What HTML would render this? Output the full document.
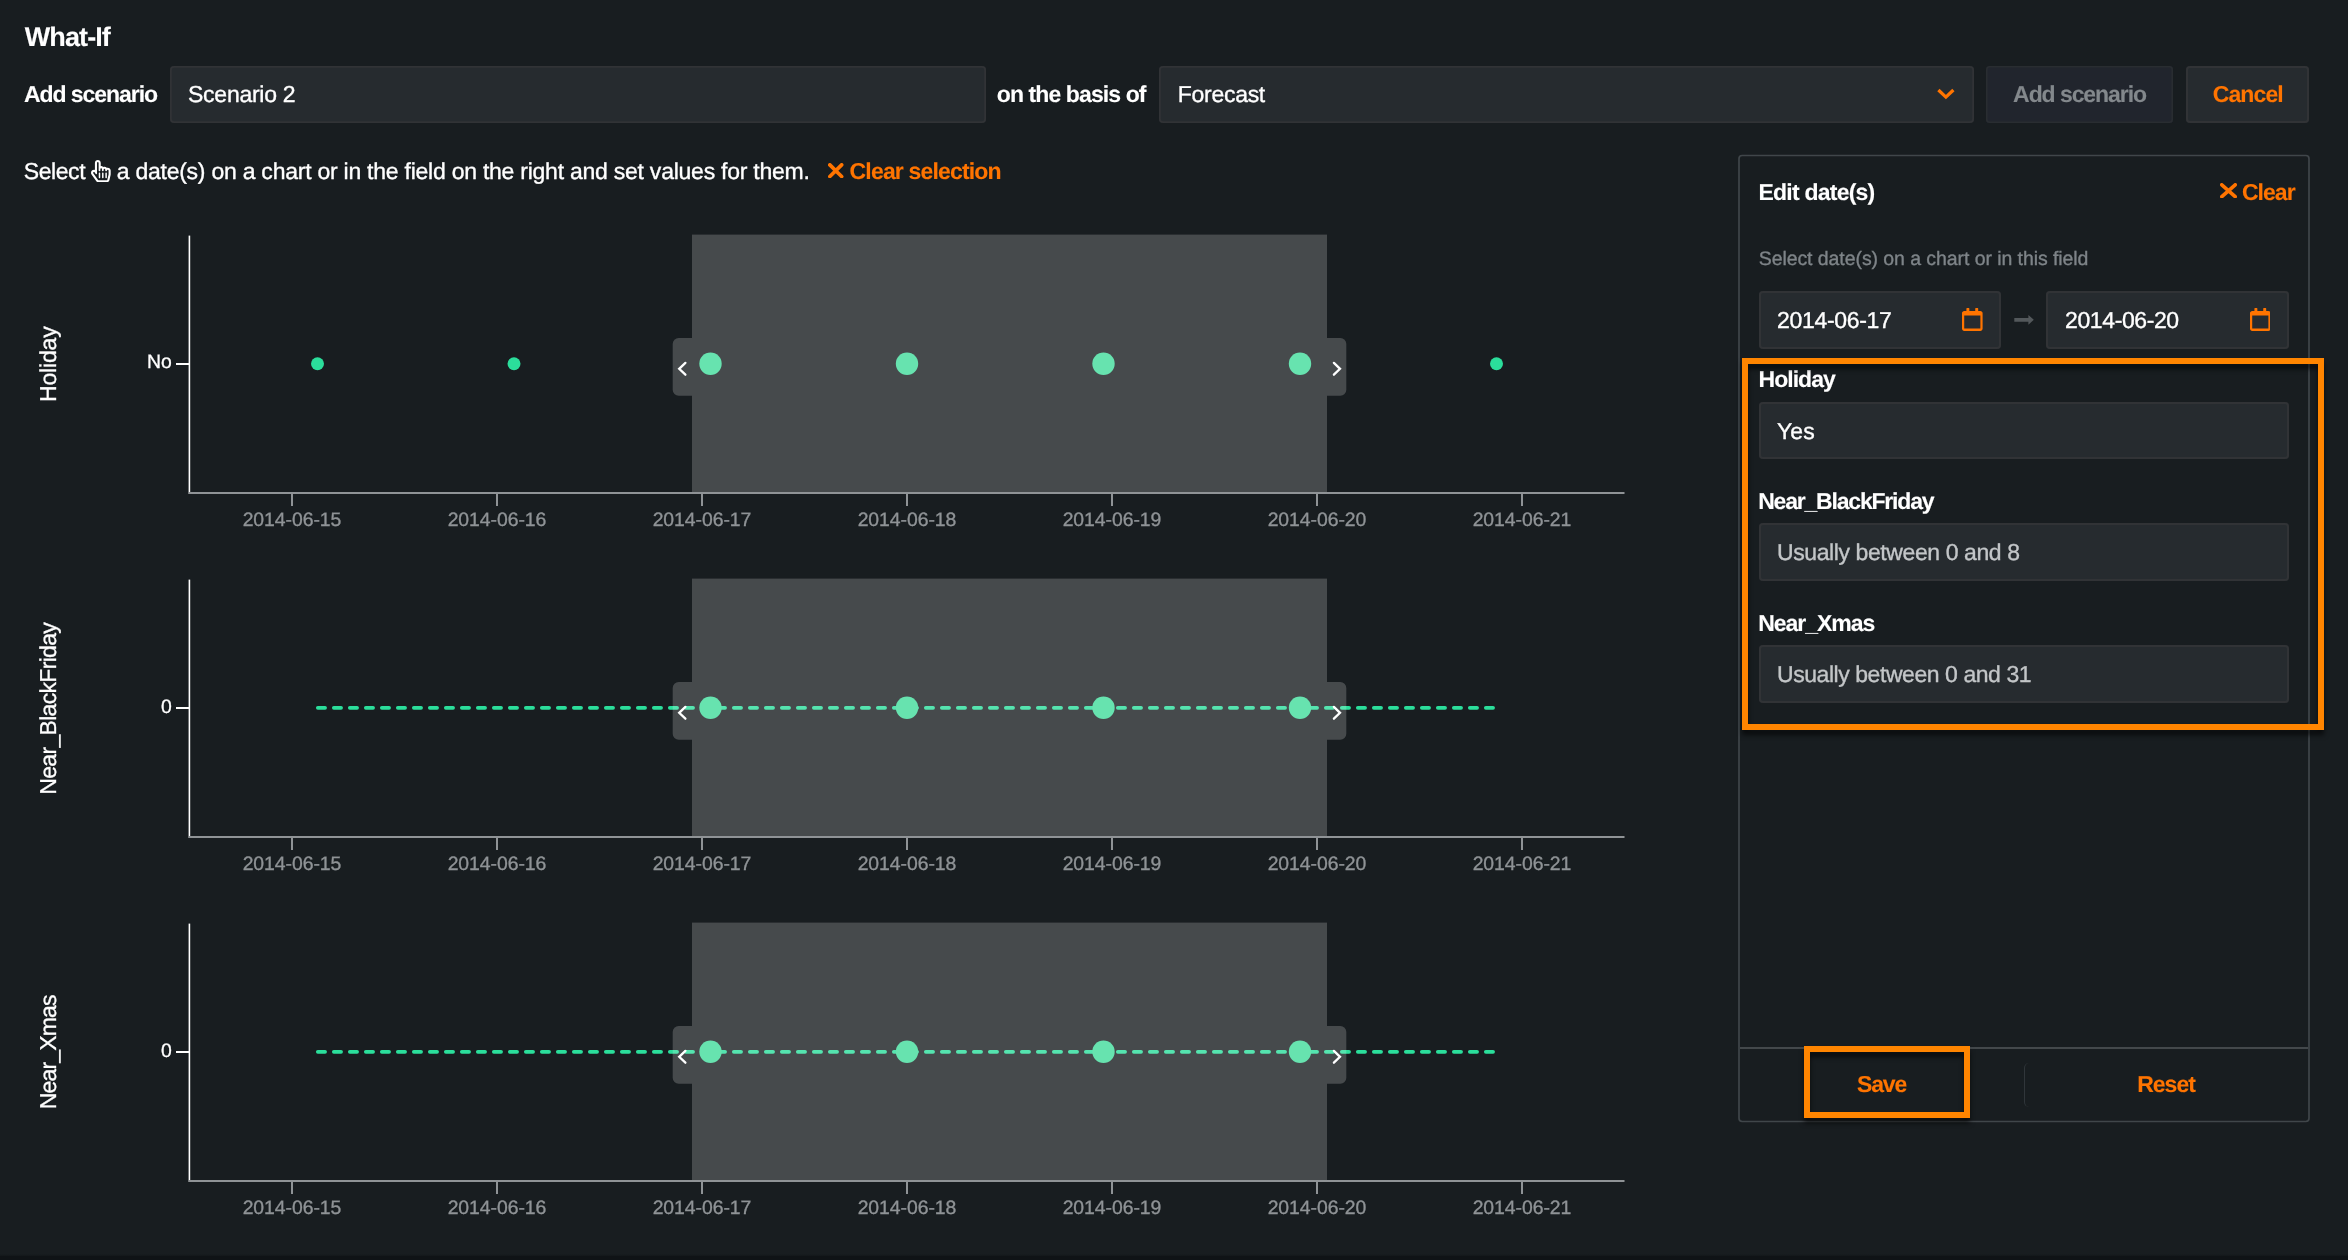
<!DOCTYPE html>
<html lang="en"><head><meta charset="utf-8"><title>What-If</title>
<style>
html,body{margin:0;padding:0;background:#181d20;}
body{width:2348px;height:1260px;position:relative;overflow:hidden;font-family:"Liberation Sans",sans-serif;}
.t{position:absolute;display:block;white-space:nowrap;line-height:1;font-family:"Liberation Sans",sans-serif;text-rendering:geometricPrecision;margin:0;padding:0;border:0;background:none;-webkit-appearance:none;appearance:none;text-align:left;}
.b{position:absolute;display:block;}
svg text{font-family:"Liberation Sans",sans-serif;text-rendering:geometricPrecision;}
#root{position:absolute;left:0;top:0;width:2348px;height:1260px;will-change:transform;}
</style></head><body><div id="root">

<div class="b" style="left:0;top:1256px;width:2348px;height:4px;background:#0f1316"></div>
<div class="b" style="left:0;top:1254px;width:2348px;height:2px;background:linear-gradient(#181d20,#13171a)"></div>
<div class="b" style="left:170.1px;top:66px;width:815.5px;height:57px;background:#262b2f;border-radius:4px;box-shadow:inset 0 0 0 1.8px #313336;"></div>
<div class="b" style="left:1159.3px;top:66px;width:814.7px;height:57px;background:#262b2f;border-radius:4px;box-shadow:inset 0 0 0 1.8px #313336;"></div>
<div class="b" style="left:1986.1px;top:66px;width:187.3px;height:57px;background:#21252d;border-radius:3.5px;box-shadow:inset 0 0 0 1.6px #292d31;"></div>
<div class="b" style="left:2186.2px;top:66px;width:123.3px;height:57px;background:#262b2f;border-radius:4px;box-shadow:inset 0 0 0 2px #313336;"></div>
<svg class="b" style="left:1935px;top:86px" width="22" height="16" viewBox="0 0 22 16"><path d="M3.4 4 L10.9 11.1 L18.4 4" stroke="#ff7400" stroke-width="3.3" fill="none" stroke-linecap="butt" stroke-linejoin="miter"/></svg>
<svg class="b" style="left:91.4px;top:159.8px" width="19.7" height="22.4" viewBox="0 0 448 512" preserveAspectRatio="none"><path fill="#fff" fill-rule="evenodd" d="M358.182 179.361c-19.493-24.768-52.679-31.945-79.872-19.098-15.127-15.687-36.182-22.487-56.595-19.629V67c0-36.944-29.736-67-66.286-67S89.143 30.056 89.143 67v161.129c-19.909-7.41-43.272-5.094-62.083 8.872-29.355 21.795-35.793 63.333-14.55 93.152l109.699 154.001C134.632 501.59 154.741 512 176 512h178.286c30.802 0 57.574-21.5 64.557-51.797l27.429-118.999A67.873 67.873 0 0 0 448 326v-84c0-46.844-46.625-79.273-89.818-62.639zM80.985 279.697l27.126 38.079c8.995 12.626 29.031 6.287 29.031-9.283V67c0-25.12 36.571-25.16 36.571 0v175c0 8.836 7.163 16 16 16h6.857c8.837 0 16-7.164 16-16v-35c0-25.12 36.571-25.16 36.571 0v35c0 8.836 7.163 16 16 16H272c8.837 0 16-7.164 16-16v-21c0-25.12 36.571-25.16 36.571 0v21c0 8.836 7.163 16 16 16h6.857c8.837 0 16-7.164 16-16 0-25.121 36.571-25.16 36.571 0v84c0 1.488-.169 2.977-.502 4.423l-27.43 119.001c-1.978 8.582-9.29 14.576-17.782 14.576H176c-5.769 0-11.263-2.878-14.697-7.697l-109.712-154c-14.406-20.223 14.994-42.818 29.394-22.606zM176.143 400v-96c0-8.837 6.268-16 14-16h6c7.732 0 14 7.163 14 16v96c0 8.837-6.268 16-14 16h-6c-7.732 0-14-7.163-14-16zm75.428 0v-96c0-8.837 6.268-16 14-16h6c7.732 0 14 7.163 14 16v96c0 8.837-6.268 16-14 16h-6c-7.732 0-14-7.163-14-16zM327 400v-96c0-8.837 6.268-16 14-16h6c7.732 0 14 7.163 14 16v96c0 8.837-6.268 16-14 16h-6c-7.732 0-14-7.163-14-16z"/></svg>
<svg class="b" style="left:828.3px;top:163.1px" width="15.5" height="15.3" viewBox="0 0 15.5 15.3"><path d="M1.85 1.85 L13.65 13.45 M13.65 1.85 L1.85 13.45" stroke="#ff7400" stroke-width="3.7" stroke-linecap="round" fill="none"/></svg>
<svg class="b" style="left:0;top:0" width="1700" height="1256" viewBox="0 0 1700 1256">
<circle cx="317.5" cy="363.75" r="6.5" fill="#2bde9b"/>
<circle cx="514" cy="363.75" r="6.5" fill="#2bde9b"/>
<circle cx="1496.5" cy="363.75" r="6.5" fill="#2bde9b"/>
<circle cx="710.5" cy="363.75" r="11.2" fill="#42dc9c"/>
<circle cx="907" cy="363.75" r="11.2" fill="#42dc9c"/>
<circle cx="1103.5" cy="363.75" r="11.2" fill="#42dc9c"/>
<circle cx="1300" cy="363.75" r="11.2" fill="#42dc9c"/>
<rect x="692" y="234.6" width="635" height="257.4" fill="#fff" fill-opacity="0.2"/>
<path d="M692 338 H678.7 a6 6 0 0 0 -6 6 V389.7 a6 6 0 0 0 6 6 H692 Z" fill="#fff" fill-opacity="0.2"/>
<path d="M1327 338 H1340.3 a6 6 0 0 1 6 6 V389.7 a6 6 0 0 1 -6 6 H1327 Z" fill="#fff" fill-opacity="0.2"/>
<path d="M685.4 362.9 L679.2 368.8 L685.4 374.7" stroke="#fff" stroke-width="2.3" fill="none" stroke-linecap="round" stroke-linejoin="miter"/>
<path d="M1333.9 362.9 L1340 368.8 L1333.9 374.7" stroke="#fff" stroke-width="2.3" fill="none" stroke-linecap="round" stroke-linejoin="miter"/>
<rect x="188.6" y="235.6" width="1.6" height="258.4" fill="#fff"/>
<rect x="189" y="492" width="1435.5" height="2" fill="#8f9396"/>
<rect x="176" y="363" width="13" height="2" fill="#fff"/>
<rect x="291" y="493" width="2" height="13" fill="#8f9396"/>
<text x="292" y="526.3" text-anchor="middle" font-size="19.4" fill="#8f9396" stroke="#8f9396" stroke-width=".35" letter-spacing="-0.05">2014-06-15</text>
<rect x="496" y="493" width="2" height="13" fill="#8f9396"/>
<text x="497" y="526.3" text-anchor="middle" font-size="19.4" fill="#8f9396" stroke="#8f9396" stroke-width=".35" letter-spacing="-0.05">2014-06-16</text>
<rect x="701" y="493" width="2" height="13" fill="#8f9396"/>
<text x="702" y="526.3" text-anchor="middle" font-size="19.4" fill="#8f9396" stroke="#8f9396" stroke-width=".35" letter-spacing="-0.05">2014-06-17</text>
<rect x="906" y="493" width="2" height="13" fill="#8f9396"/>
<text x="907" y="526.3" text-anchor="middle" font-size="19.4" fill="#8f9396" stroke="#8f9396" stroke-width=".35" letter-spacing="-0.05">2014-06-18</text>
<rect x="1111" y="493" width="2" height="13" fill="#8f9396"/>
<text x="1112" y="526.3" text-anchor="middle" font-size="19.4" fill="#8f9396" stroke="#8f9396" stroke-width=".35" letter-spacing="-0.05">2014-06-19</text>
<rect x="1316" y="493" width="2" height="13" fill="#8f9396"/>
<text x="1317" y="526.3" text-anchor="middle" font-size="19.4" fill="#8f9396" stroke="#8f9396" stroke-width=".35" letter-spacing="-0.05">2014-06-20</text>
<rect x="1521" y="493" width="2" height="13" fill="#8f9396"/>
<text x="1522" y="526.3" text-anchor="middle" font-size="19.4" fill="#8f9396" stroke="#8f9396" stroke-width=".35" letter-spacing="-0.05">2014-06-21</text>
<text x="171.9" y="368.4" text-anchor="end" font-size="19.4" fill="#fff" stroke="#fff" stroke-width=".3">No</text>
<text transform="translate(56.2 364.2) rotate(-90)" text-anchor="middle" font-size="23" fill="#fff" stroke="#fff" stroke-width=".3" letter-spacing="-0.18">Holiday</text>
<path d="M317.8 707.85 H1494" stroke="#2bde9b" stroke-width="3.7" stroke-linecap="round" stroke-dasharray="7.3 8.7" fill="none"/>
<circle cx="710.5" cy="707.75" r="11.2" fill="#42dc9c"/>
<circle cx="907" cy="707.75" r="11.2" fill="#42dc9c"/>
<circle cx="1103.5" cy="707.75" r="11.2" fill="#42dc9c"/>
<circle cx="1300" cy="707.75" r="11.2" fill="#42dc9c"/>
<rect x="692" y="578.6" width="635" height="257.4" fill="#fff" fill-opacity="0.2"/>
<path d="M692 682 H678.7 a6 6 0 0 0 -6 6 V733.7 a6 6 0 0 0 6 6 H692 Z" fill="#fff" fill-opacity="0.2"/>
<path d="M1327 682 H1340.3 a6 6 0 0 1 6 6 V733.7 a6 6 0 0 1 -6 6 H1327 Z" fill="#fff" fill-opacity="0.2"/>
<path d="M685.4 706.9 L679.2 712.8 L685.4 718.7" stroke="#fff" stroke-width="2.3" fill="none" stroke-linecap="round" stroke-linejoin="miter"/>
<path d="M1333.9 706.9 L1340 712.8 L1333.9 718.7" stroke="#fff" stroke-width="2.3" fill="none" stroke-linecap="round" stroke-linejoin="miter"/>
<rect x="188.6" y="579.6" width="1.6" height="258.4" fill="#fff"/>
<rect x="189" y="836" width="1435.5" height="2" fill="#8f9396"/>
<rect x="176" y="707" width="13" height="2" fill="#fff"/>
<rect x="291" y="837" width="2" height="13" fill="#8f9396"/>
<text x="292" y="870.3" text-anchor="middle" font-size="19.4" fill="#8f9396" stroke="#8f9396" stroke-width=".35" letter-spacing="-0.05">2014-06-15</text>
<rect x="496" y="837" width="2" height="13" fill="#8f9396"/>
<text x="497" y="870.3" text-anchor="middle" font-size="19.4" fill="#8f9396" stroke="#8f9396" stroke-width=".35" letter-spacing="-0.05">2014-06-16</text>
<rect x="701" y="837" width="2" height="13" fill="#8f9396"/>
<text x="702" y="870.3" text-anchor="middle" font-size="19.4" fill="#8f9396" stroke="#8f9396" stroke-width=".35" letter-spacing="-0.05">2014-06-17</text>
<rect x="906" y="837" width="2" height="13" fill="#8f9396"/>
<text x="907" y="870.3" text-anchor="middle" font-size="19.4" fill="#8f9396" stroke="#8f9396" stroke-width=".35" letter-spacing="-0.05">2014-06-18</text>
<rect x="1111" y="837" width="2" height="13" fill="#8f9396"/>
<text x="1112" y="870.3" text-anchor="middle" font-size="19.4" fill="#8f9396" stroke="#8f9396" stroke-width=".35" letter-spacing="-0.05">2014-06-19</text>
<rect x="1316" y="837" width="2" height="13" fill="#8f9396"/>
<text x="1317" y="870.3" text-anchor="middle" font-size="19.4" fill="#8f9396" stroke="#8f9396" stroke-width=".35" letter-spacing="-0.05">2014-06-20</text>
<rect x="1521" y="837" width="2" height="13" fill="#8f9396"/>
<text x="1522" y="870.3" text-anchor="middle" font-size="19.4" fill="#8f9396" stroke="#8f9396" stroke-width=".35" letter-spacing="-0.05">2014-06-21</text>
<text x="171.9" y="712.9" text-anchor="end" font-size="19.4" fill="#fff" stroke="#fff" stroke-width=".3">0</text>
<text transform="translate(56.2 708.8) rotate(-90)" text-anchor="middle" font-size="23" fill="#fff" stroke="#fff" stroke-width=".3" letter-spacing="-0.68">Near_BlackFriday</text>
<path d="M317.8 1051.85 H1494" stroke="#2bde9b" stroke-width="3.7" stroke-linecap="round" stroke-dasharray="7.3 8.7" fill="none"/>
<circle cx="710.5" cy="1051.75" r="11.2" fill="#42dc9c"/>
<circle cx="907" cy="1051.75" r="11.2" fill="#42dc9c"/>
<circle cx="1103.5" cy="1051.75" r="11.2" fill="#42dc9c"/>
<circle cx="1300" cy="1051.75" r="11.2" fill="#42dc9c"/>
<rect x="692" y="922.6" width="635" height="257.4" fill="#fff" fill-opacity="0.2"/>
<path d="M692 1026 H678.7 a6 6 0 0 0 -6 6 V1077.7 a6 6 0 0 0 6 6 H692 Z" fill="#fff" fill-opacity="0.2"/>
<path d="M1327 1026 H1340.3 a6 6 0 0 1 6 6 V1077.7 a6 6 0 0 1 -6 6 H1327 Z" fill="#fff" fill-opacity="0.2"/>
<path d="M685.4 1050.9 L679.2 1056.8 L685.4 1062.7" stroke="#fff" stroke-width="2.3" fill="none" stroke-linecap="round" stroke-linejoin="miter"/>
<path d="M1333.9 1050.9 L1340 1056.8 L1333.9 1062.7" stroke="#fff" stroke-width="2.3" fill="none" stroke-linecap="round" stroke-linejoin="miter"/>
<rect x="188.6" y="923.6" width="1.6" height="258.4" fill="#fff"/>
<rect x="189" y="1180" width="1435.5" height="2" fill="#8f9396"/>
<rect x="176" y="1051" width="13" height="2" fill="#fff"/>
<rect x="291" y="1181" width="2" height="13" fill="#8f9396"/>
<text x="292" y="1214.3" text-anchor="middle" font-size="19.4" fill="#8f9396" stroke="#8f9396" stroke-width=".35" letter-spacing="-0.05">2014-06-15</text>
<rect x="496" y="1181" width="2" height="13" fill="#8f9396"/>
<text x="497" y="1214.3" text-anchor="middle" font-size="19.4" fill="#8f9396" stroke="#8f9396" stroke-width=".35" letter-spacing="-0.05">2014-06-16</text>
<rect x="701" y="1181" width="2" height="13" fill="#8f9396"/>
<text x="702" y="1214.3" text-anchor="middle" font-size="19.4" fill="#8f9396" stroke="#8f9396" stroke-width=".35" letter-spacing="-0.05">2014-06-17</text>
<rect x="906" y="1181" width="2" height="13" fill="#8f9396"/>
<text x="907" y="1214.3" text-anchor="middle" font-size="19.4" fill="#8f9396" stroke="#8f9396" stroke-width=".35" letter-spacing="-0.05">2014-06-18</text>
<rect x="1111" y="1181" width="2" height="13" fill="#8f9396"/>
<text x="1112" y="1214.3" text-anchor="middle" font-size="19.4" fill="#8f9396" stroke="#8f9396" stroke-width=".35" letter-spacing="-0.05">2014-06-19</text>
<rect x="1316" y="1181" width="2" height="13" fill="#8f9396"/>
<text x="1317" y="1214.3" text-anchor="middle" font-size="19.4" fill="#8f9396" stroke="#8f9396" stroke-width=".35" letter-spacing="-0.05">2014-06-20</text>
<rect x="1521" y="1181" width="2" height="13" fill="#8f9396"/>
<text x="1522" y="1214.3" text-anchor="middle" font-size="19.4" fill="#8f9396" stroke="#8f9396" stroke-width=".35" letter-spacing="-0.05">2014-06-21</text>
<text x="171.9" y="1056.9" text-anchor="end" font-size="19.4" fill="#fff" stroke="#fff" stroke-width=".3">0</text>
<text transform="translate(56.2 1052.3) rotate(-90)" text-anchor="middle" font-size="23" fill="#fff" stroke="#fff" stroke-width=".3" letter-spacing="-0.86">Near_Xmas</text>
</svg>
<svg class="b" style="left:1730px;top:150px" width="590" height="980" viewBox="1730 150 590 980"><rect x="1739" y="155.5" width="570" height="966" rx="3.2" fill="none" stroke="#40464a" stroke-width="1.7"/></svg>
<div class="b" style="left:1740px;top:1047.3px;width:568px;height:1.8px;background:#43484b"></div>
<svg class="b" style="left:2220px;top:182.9px" width="17" height="15.5" viewBox="0 0 17 15.5"><path d="M1.8 1.8 L15.2 13.7 M15.2 1.8 L1.8 13.7" stroke="#ff7400" stroke-width="3.6" stroke-linecap="round" fill="none"/></svg>
<div class="b" style="left:1759px;top:291px;width:242.3px;height:57.6px;background:#262b2f;border-radius:4px;box-shadow:inset 0 0 0 2px #313336;"></div>
<div class="b" style="left:2046px;top:291px;width:242.7px;height:57.6px;background:#262b2f;border-radius:4px;box-shadow:inset 0 0 0 2px #313336;"></div>
<svg class="b" style="left:1962.3px;top:308px" width="20.6" height="23" viewBox="0 0 448 512" preserveAspectRatio="none"><path fill="#ff7400" fill-rule="evenodd" d="M400 64h-48V12c0-6.6-5.4-12-12-12h-40c-6.6 0-12 5.4-12 12v52H160V12c0-6.6-5.4-12-12-12h-40c-6.6 0-12 5.400-12 12v52H48C21.5 64 0 85.5 0 112v352c0 26.5 21.5 48 48 48h352c26.5 0 48-21.5 48-48V112c0-26.5-21.5-48-48-48zM394 456H54c-3.3 0-6-2.7-6-6V168h352v282c0 3.3-2.7 6-6 6z"/></svg>
<svg class="b" style="left:2249.9px;top:308px" width="20.6" height="23" viewBox="0 0 448 512" preserveAspectRatio="none"><path fill="#ff7400" fill-rule="evenodd" d="M400 64h-48V12c0-6.6-5.4-12-12-12h-40c-6.6 0-12 5.4-12 12v52H160V12c0-6.6-5.4-12-12-12h-40c-6.6 0-12 5.400-12 12v52H48C21.5 64 0 85.5 0 112v352c0 26.5 21.5 48 48 48h352c26.5 0 48-21.5 48-48V112c0-26.5-21.5-48-48-48zM394 456H54c-3.3 0-6-2.7-6-6V168h352v282c0 3.3-2.7 6-6 6z"/></svg>
<svg class="b" style="left:2010px;top:310px" width="30" height="20" viewBox="2010 310 30 20"><path d="M2014.3 318 H2028.4 V315 L2033.8 319.85 L2028.4 324.7 V321.7 H2014.3 Z" fill="#53585b"/></svg>
<div class="b" style="left:1759px;top:402px;width:529.7px;height:57px;background:#262b2f;border-radius:4px;box-shadow:inset 0 0 0 2px #313336;"></div>
<div class="b" style="left:1759px;top:523.2px;width:529.7px;height:57.5px;background:#262b2f;border-radius:4px;box-shadow:inset 0 0 0 2px #313336;"></div>
<div class="b" style="left:1759px;top:645px;width:529.7px;height:58px;background:#262b2f;border-radius:4px;box-shadow:inset 0 0 0 2px #313336;"></div>
<div class="b" style="left:2024.4px;top:1062.6px;width:10px;height:44px;border-left:1.6px solid #30363a;border-radius:5px 0 0 5px;box-sizing:border-box"></div>
<h1 class="t" id="title" style="left:24.78px;top:24.24px;font-size:27px;font-weight:700;color:#fff;letter-spacing:-0.897px;-webkit-text-stroke:.12px #fff;">What-If</h1>
<label class="t" id="addsc" style="left:23.91px;top:82.53px;font-size:23px;font-weight:700;color:#fff;letter-spacing:-1.047px;-webkit-text-stroke:.12px #fff;">Add scenario</label>
<span class="t" id="scen2" style="left:188.05px;top:82.53px;font-size:23px;font-weight:400;color:#fff;letter-spacing:-0.265px;-webkit-text-stroke:.35px #fff;">Scenario 2</span>
<label class="t" id="basis" style="left:996.81px;top:82.53px;font-size:23px;font-weight:700;color:#fff;letter-spacing:-0.903px;-webkit-text-stroke:.12px #fff;">on the basis of</label>
<span class="t" id="forecast" style="left:1177.76px;top:82.53px;font-size:23px;font-weight:400;color:#fff;letter-spacing:-0.280px;-webkit-text-stroke:.35px #fff;">Forecast</span>
<button class="t" id="addbtn" style="left:2013.10px;top:82.53px;font-size:23px;font-weight:700;color:#83888c;letter-spacing:-1.070px;-webkit-text-stroke:.12px #83888c;">Add scenario</button>
<button class="t" id="cancel" style="left:2212.80px;top:82.53px;font-size:23px;font-weight:700;color:#ff7400;letter-spacing:-0.912px;-webkit-text-stroke:.12px #ff7400;">Cancel</button>
<p class="t" id="select" style="left:23.85px;top:160.33px;font-size:23px;font-weight:400;color:#fff;letter-spacing:-0.447px;-webkit-text-stroke:.35px #fff;">Select</p>
<p class="t" id="sentence" style="left:116.70px;top:160.33px;font-size:23px;font-weight:400;color:#fff;letter-spacing:-0.242px;-webkit-text-stroke:.35px #fff;">a date(s) on a chart or in the field on the right and set values for them.</p>
<button class="t" id="clearsel" style="left:849.59px;top:160.33px;font-size:23px;font-weight:700;color:#ff7400;letter-spacing:-0.829px;-webkit-text-stroke:.12px #ff7400;">Clear selection</button>
<span class="t" id="editd" style="left:1758.52px;top:180.53px;font-size:23px;font-weight:700;color:#fff;letter-spacing:-0.773px;-webkit-text-stroke:.12px #fff;">Edit date(s)</span>
<button class="t" id="clear" style="left:2241.92px;top:180.53px;font-size:23px;font-weight:700;color:#ff7400;letter-spacing:-0.960px;-webkit-text-stroke:.12px #ff7400;">Clear</button>
<p class="t" id="hint" style="left:1758.71px;top:250.24px;font-size:19.5px;font-weight:400;color:#7e8488;letter-spacing:-0.074px;-webkit-text-stroke:.35px #7e8488;">Select date(s) on a chart or in this field</p>
<span class="t" id="d1" style="left:1777.07px;top:308.63px;font-size:23px;font-weight:400;color:#fff;letter-spacing:-0.316px;-webkit-text-stroke:.35px #fff;">2014-06-17</span>
<span class="t" id="d2" style="left:2065.07px;top:308.63px;font-size:23px;font-weight:400;color:#fff;letter-spacing:-0.396px;-webkit-text-stroke:.35px #fff;">2014-06-20</span>
<label class="t" id="lholiday" style="left:1758.52px;top:367.53px;font-size:23px;font-weight:700;color:#fff;letter-spacing:-0.972px;-webkit-text-stroke:.12px #fff;">Holiday</label>
<span class="t" id="yes" style="left:1777.09px;top:419.53px;font-size:23px;font-weight:400;color:#fff;letter-spacing:0.024px;-webkit-text-stroke:.35px #fff;">Yes</span>
<label class="t" id="lnbf" style="left:1758.18px;top:489.73px;font-size:23px;font-weight:700;color:#fff;letter-spacing:-1.198px;-webkit-text-stroke:.12px #fff;">Near_BlackFriday</label>
<span class="t" id="pnbf" style="left:1776.97px;top:540.53px;font-size:23px;font-weight:400;color:#c3c6c8;letter-spacing:-0.401px;-webkit-text-stroke:.35px #c3c6c8;">Usually between 0 and 8</span>
<label class="t" id="lnx" style="left:1758.18px;top:611.53px;font-size:23px;font-weight:700;color:#fff;letter-spacing:-1.025px;-webkit-text-stroke:.12px #fff;">Near_Xmas</label>
<span class="t" id="pnx" style="left:1776.97px;top:662.53px;font-size:23px;font-weight:400;color:#c3c6c8;letter-spacing:-0.440px;-webkit-text-stroke:.35px #c3c6c8;">Usually between 0 and 31</span>
<button class="t" id="save" style="left:1857.05px;top:1072.53px;font-size:23px;font-weight:700;color:#ff7400;letter-spacing:-1.157px;-webkit-text-stroke:.12px #ff7400;">Save</button>
<button class="t" id="reset" style="left:2137.25px;top:1072.53px;font-size:23px;font-weight:700;color:#ff7400;letter-spacing:-1.014px;-webkit-text-stroke:.12px #ff7400;">Reset</button>
<div class="b" style="left:1742px;top:358px;width:570px;height:360px;border:6px solid #ff8500;filter:drop-shadow(0 5px 2.5px rgba(0,0,0,.62))"></div>
<div class="b" style="left:1804px;top:1046px;width:154px;height:60px;border:6px solid #ff8500;filter:drop-shadow(0 5px 2.5px rgba(0,0,0,.62))"></div>
</div></body></html>
